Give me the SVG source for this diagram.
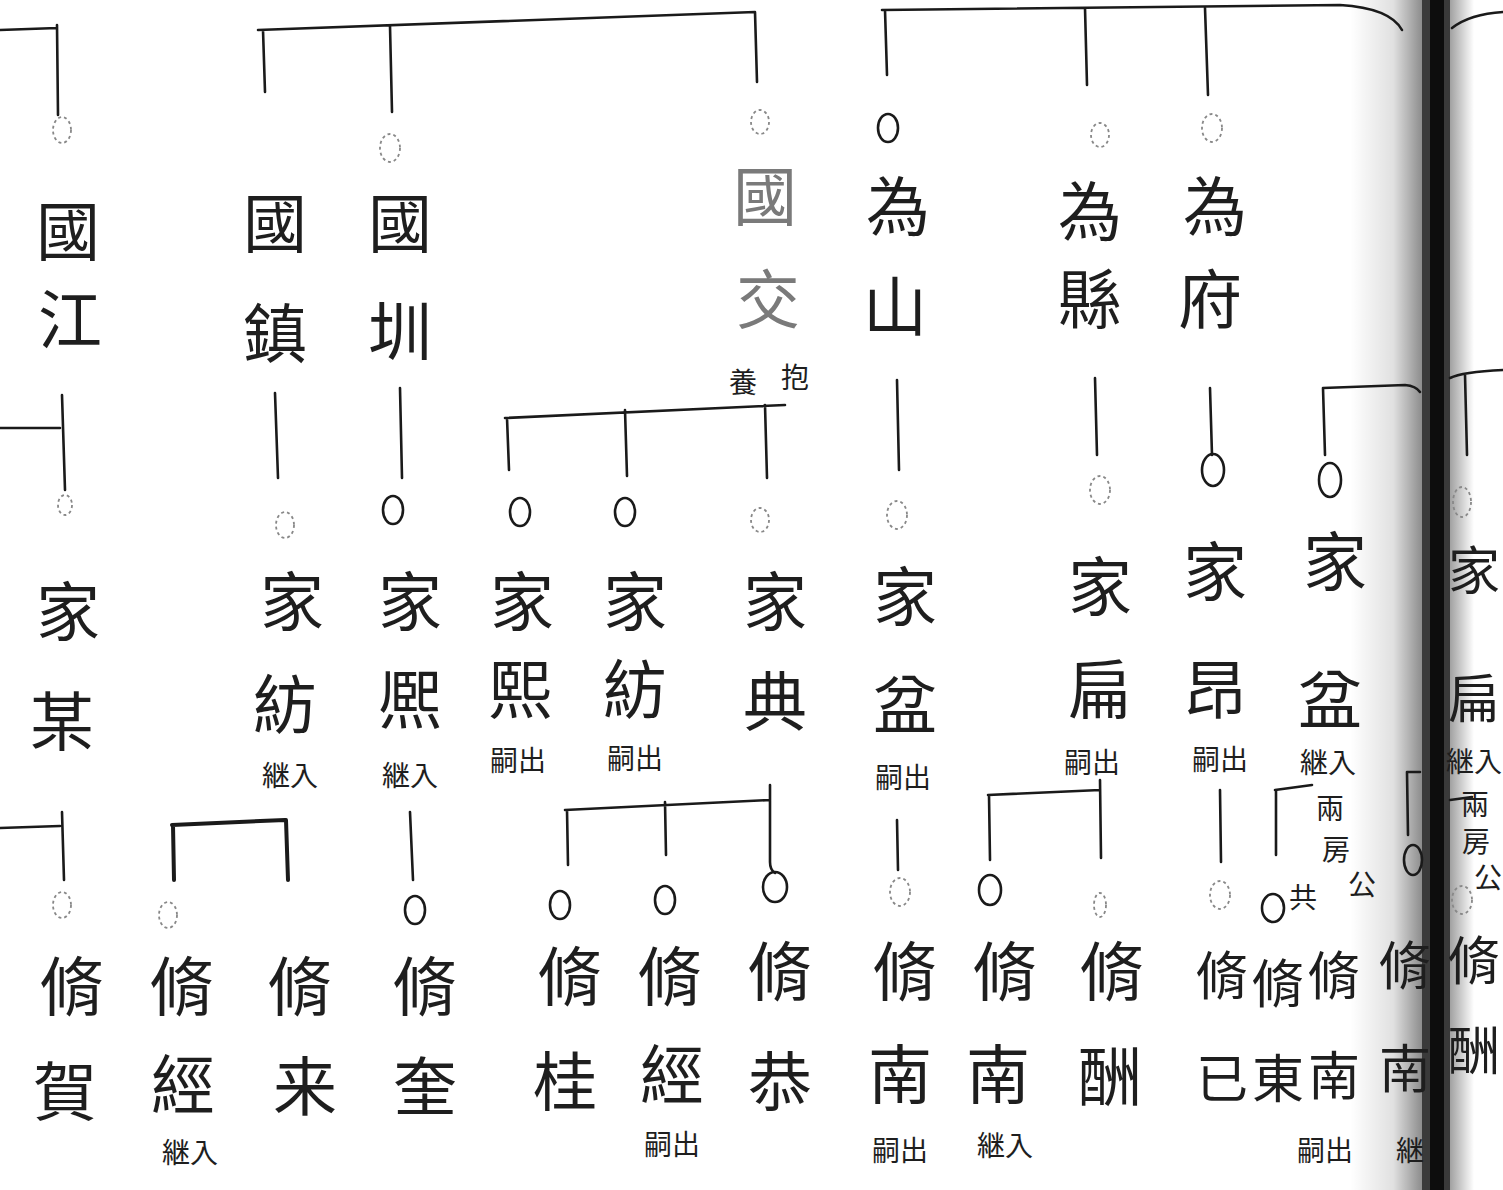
<svg xmlns="http://www.w3.org/2000/svg" width="1503" height="1190" viewBox="0 0 1503 1190">
<style>
.ln{fill:none;stroke:#1a1a1a;stroke-width:2.6;stroke-linecap:round}
.bk{stroke-width:4}
.c{fill:none;stroke:#1a1a1a;stroke-width:2.6}
.cf{fill:none;stroke:#888;stroke-width:1.8;stroke-dasharray:3 3}
.t{font-family:"Noto Sans CJK TC","Noto Sans CJK JP",sans-serif;font-size:64px;fill:#1e1e1e;text-anchor:middle;font-weight:400}
.m{font-size:52px}
.s{font-family:"Noto Sans CJK JP","Noto Sans CJK TC",sans-serif;font-size:28px;fill:#1e1e1e;text-anchor:middle}
.g{fill:#7a7a7a}
</style>
<defs>
<linearGradient id="shL" x1="0" x2="1" y1="0" y2="0">
<stop offset="0" stop-color="#000" stop-opacity="0"/>
<stop offset="0.6" stop-color="#000" stop-opacity="0.12"/>
<stop offset="1" stop-color="#000" stop-opacity="0.45"/>
</linearGradient>
<linearGradient id="shR" x1="0" x2="1" y1="0" y2="0">
<stop offset="0" stop-color="#000" stop-opacity="0.4"/>
<stop offset="1" stop-color="#000" stop-opacity="0"/>
</linearGradient>
</defs>
<rect width="1503" height="1190" fill="#fff"/>
<g id="binding">
<rect x="1350" y="0" width="72" height="1190" fill="url(#shL)"/>
<rect x="1448" y="0" width="26" height="1190" fill="url(#shR)"/>
<rect x="1422" y="0" width="28" height="1190" fill="#3a3a3a"/>
<rect x="1430" y="0" width="14" height="1190" fill="#0d0d0d"/>
</g>
<g id="connectors">
<path class="ln" d="M0 30 L57 28 M57 25 L58 115"/>
<path class="ln" d="M258 30 L755 12 M263 30 L265 92 M390 26 L392 112 M755 12 L757 82"/>
<path class="ln" d="M882 10 L1340 5 Q1390 8 1402 30 M885 10 L887 75 M1085 8 L1087 85 M1205 8 L1208 95"/>
<path class="ln" d="M1452 28 Q1470 14 1503 12"/>
<path class="ln" d="M0 428 L60 428 M62 395 L65 490"/>
<path class="ln" d="M275 393 L278 478 M400 388 L402 478"/>
<path class="ln" d="M505 418 L785 405 M507 418 L509 470 M625 410 L627 476 M765 405 L767 478"/>
<path class="ln" d="M897 380 L899 470 M1095 378 L1097 455 M1210 388 L1212 455"/>
<path class="ln" d="M1323 388 L1405 385 Q1416 386 1420 392 M1323 388 L1325 455"/>
<path class="ln" d="M1450 378 Q1462 372 1503 370 M1465 375 L1467 455"/>
<path class="ln" d="M0 828 L60 826 M62 812 L64 880"/>
<path class="ln bk" d="M172 825 L285 820 M173 825 L174 880 M286 820 L288 880"/>
<path class="ln" d="M410 812 L413 880"/>
<path class="ln" d="M565 810 L770 800 M567 810 L568 865 M665 802 L666 855 M770 785 L770 862 Q770 870 775 873"/>
<path class="ln" d="M897 820 L898 870"/>
<path class="ln" d="M988 795 L1100 790 M989 795 L990 860 M1100 780 L1101 858"/>
<path class="ln" d="M1220 790 L1221 862"/>
<path class="ln" d="M1275 790 L1312 785 M1276 790 L1276 855"/>
<path class="ln" d="M1407 772 L1420 772 M1407 772 L1408 835"/>
<path class="ln" d="M1450 800 L1472 797"/>
</g>
<g id="circles">
<ellipse class="cf" cx="62" cy="130" rx="9" ry="13"/>
<ellipse class="cf" cx="390" cy="148" rx="10" ry="14"/>
<ellipse class="cf" cx="760" cy="122" rx="9" ry="12"/>
<ellipse class="c" cx="888" cy="128" rx="10" ry="14"/>
<ellipse class="cf" cx="1100" cy="135" rx="9" ry="12"/>
<ellipse class="cf" cx="1212" cy="128" rx="10" ry="14"/>
<ellipse class="cf" cx="65" cy="505" rx="7" ry="10"/>
<ellipse class="cf" cx="285" cy="525" rx="9" ry="13"/>
<ellipse class="c" cx="393" cy="510" rx="10" ry="14"/>
<ellipse class="c" cx="520" cy="512" rx="10" ry="14"/>
<ellipse class="c" cx="625" cy="512" rx="10" ry="14"/>
<ellipse class="cf" cx="760" cy="520" rx="9" ry="12"/>
<ellipse class="cf" cx="897" cy="515" rx="10" ry="14"/>
<ellipse class="cf" cx="1100" cy="490" rx="10" ry="14"/>
<ellipse class="c" cx="1213" cy="470" rx="11" ry="16"/>
<ellipse class="c" cx="1330" cy="480" rx="11" ry="17"/>
<ellipse class="cf" cx="1462" cy="502" rx="9" ry="15"/>
<ellipse class="cf" cx="62" cy="905" rx="9" ry="13"/>
<ellipse class="cf" cx="168" cy="915" rx="9" ry="13"/>
<ellipse class="c" cx="415" cy="910" rx="10" ry="14"/>
<ellipse class="c" cx="560" cy="905" rx="10" ry="14"/>
<ellipse class="c" cx="665" cy="900" rx="10" ry="14"/>
<ellipse class="c" cx="775" cy="887" rx="12" ry="15"/>
<ellipse class="cf" cx="900" cy="892" rx="10" ry="14"/>
<ellipse class="c" cx="990" cy="890" rx="11" ry="15"/>
<ellipse class="cf" cx="1100" cy="905" rx="6" ry="12"/>
<ellipse class="cf" cx="1220" cy="895" rx="10" ry="14"/>
<ellipse class="c" cx="1273" cy="908" rx="11" ry="14"/>
<ellipse class="c" cx="1413" cy="860" rx="9" ry="15"/>
<ellipse class="cf" cx="1462" cy="900" rx="10" ry="14"/>
</g>
<g id="n-guojiang"><text class="t" x="68" y="255">國</text><text class="t" x="70" y="343">江</text></g>
<g id="n-guozhen"><text class="t" x="275" y="247">國</text><text class="t" x="275" y="357">鎮</text></g>
<g id="n-guozhen2"><text class="t" x="400" y="247">國</text><text class="t" x="400" y="355">圳</text></g>
<g id="n-guojiao"><text class="t g" x="765" y="220">國</text><text class="t g" x="768" y="323">交</text><text class="s" x="743" y="393">養</text><text class="s" x="795" y="388">抱</text></g>
<g id="n-weishan"><text class="t" x="898" y="230">為</text><text class="t" x="895" y="330">山</text></g>
<g id="n-weixian"><text class="t" x="1090" y="235">為</text><text class="t" x="1090" y="323">縣</text></g>
<g id="n-weifu"><text class="t" x="1215" y="230">為</text><text class="t" x="1210" y="323">府</text></g>
<g id="n-jiamou"><text class="t" x="68" y="635">家</text><text class="t" x="62" y="745">某</text></g>
<g id="n-jiafang1"><text class="t" x="292" y="625">家</text><text class="t" x="285" y="728">紡</text><text class="s" x="290" y="786">継入</text></g>
<g id="n-jiaxi1"><text class="t" x="410" y="625">家</text><text class="t" x="410" y="723">熈</text><text class="s" x="410" y="786">継入</text></g>
<g id="n-jiaxi2"><text class="t" x="522" y="625">家</text><text class="t" x="520" y="713">熙</text><text class="s" x="518" y="771">嗣出</text></g>
<g id="n-jiafang2"><text class="t" x="635" y="625">家</text><text class="t" x="635" y="713">紡</text><text class="s" x="635" y="769">嗣出</text></g>
<g id="n-jiadian"><text class="t" x="775" y="625">家</text><text class="t" x="775" y="725">典</text></g>
<g id="n-jiapen1"><text class="t" x="905" y="620">家</text><text class="t" x="905" y="728">盆</text><text class="s" x="903" y="788">嗣出</text></g>
<g id="n-jiabian1"><text class="t" x="1100" y="610">家</text><text class="t" x="1100" y="713">扁</text><text class="s" x="1092" y="773">嗣出</text></g>
<g id="n-jiaang"><text class="t" x="1215" y="595">家</text><text class="t" x="1215" y="713">昂</text><text class="s" x="1220" y="770">嗣出</text></g>
<g id="n-jiapen2"><text class="t" x="1335" y="585">家</text><text class="t" x="1330" y="723">盆</text><text class="s" x="1328" y="773">継入</text><text class="s" x="1330" y="819">兩</text><text class="s" x="1336" y="860">房</text><text class="s" x="1362" y="895">公</text><text class="s" x="1303" y="908">共</text></g>
<g id="n-jiabian2"><text class="t m" x="1474" y="590">家</text><text class="t m" x="1474" y="718">扁</text><text class="s" x="1474" y="772">継入</text><text class="s" x="1475" y="815">兩</text><text class="s" x="1476" y="852">房</text><text class="s" x="1488" y="888">公</text></g>
<g id="n-xiuhe"><text class="t" x="72" y="1010">脩</text><text class="t" x="65" y="1115">賀</text></g>
<g id="n-xiujing1"><text class="t" x="182" y="1010">脩</text><text class="t" x="183" y="1108">經</text><text class="s" x="190" y="1163">継入</text></g>
<g id="n-xiulai"><text class="t" x="300" y="1010">脩</text><text class="t" x="305" y="1110">来</text></g>
<g id="n-xiukui"><text class="t" x="425" y="1010">脩</text><text class="t" x="425" y="1110">奎</text></g>
<g id="n-xiugui"><text class="t" x="570" y="1000">脩</text><text class="t" x="565" y="1105">桂</text></g>
<g id="n-xiujing2"><text class="t" x="670" y="1000">脩</text><text class="t" x="672" y="1098">經</text><text class="s" x="672" y="1155">嗣出</text></g>
<g id="n-xiugong"><text class="t" x="780" y="995">脩</text><text class="t" x="780" y="1105">恭</text></g>
<g id="n-xiunan1"><text class="t" x="905" y="995">脩</text><text class="t" x="900" y="1098">南</text><text class="s" x="900" y="1161">嗣出</text></g>
<g id="n-xiunan2"><text class="t" x="1005" y="995">脩</text><text class="t" x="998" y="1098">南</text><text class="s" x="1005" y="1156">継入</text></g>
<g id="n-xiuchou1"><text class="t" x="1112" y="995">脩</text><text class="t" x="1110" y="1100">酬</text></g>
<g id="n-xiuji"><text class="t m" x="1222" y="995">脩</text><text class="t m" x="1222" y="1098">已</text></g>
<g id="n-xiudong"><text class="t m" x="1278" y="1003">脩</text><text class="t m" x="1278" y="1098">東</text></g>
<g id="n-xiunan3"><text class="t m" x="1334" y="995">脩</text><text class="t m" x="1334" y="1095">南</text><text class="s" x="1325" y="1161">嗣出</text></g>
<g id="n-xiunan4"><text class="t m" x="1405" y="985">脩</text><text class="t m" x="1405" y="1088">南</text><text class="s" x="1410" y="1161">継</text></g>
<g id="n-xiuchou2"><text class="t m" x="1474" y="980">脩</text><text class="t m" x="1474" y="1070">酬</text></g>
</svg>
